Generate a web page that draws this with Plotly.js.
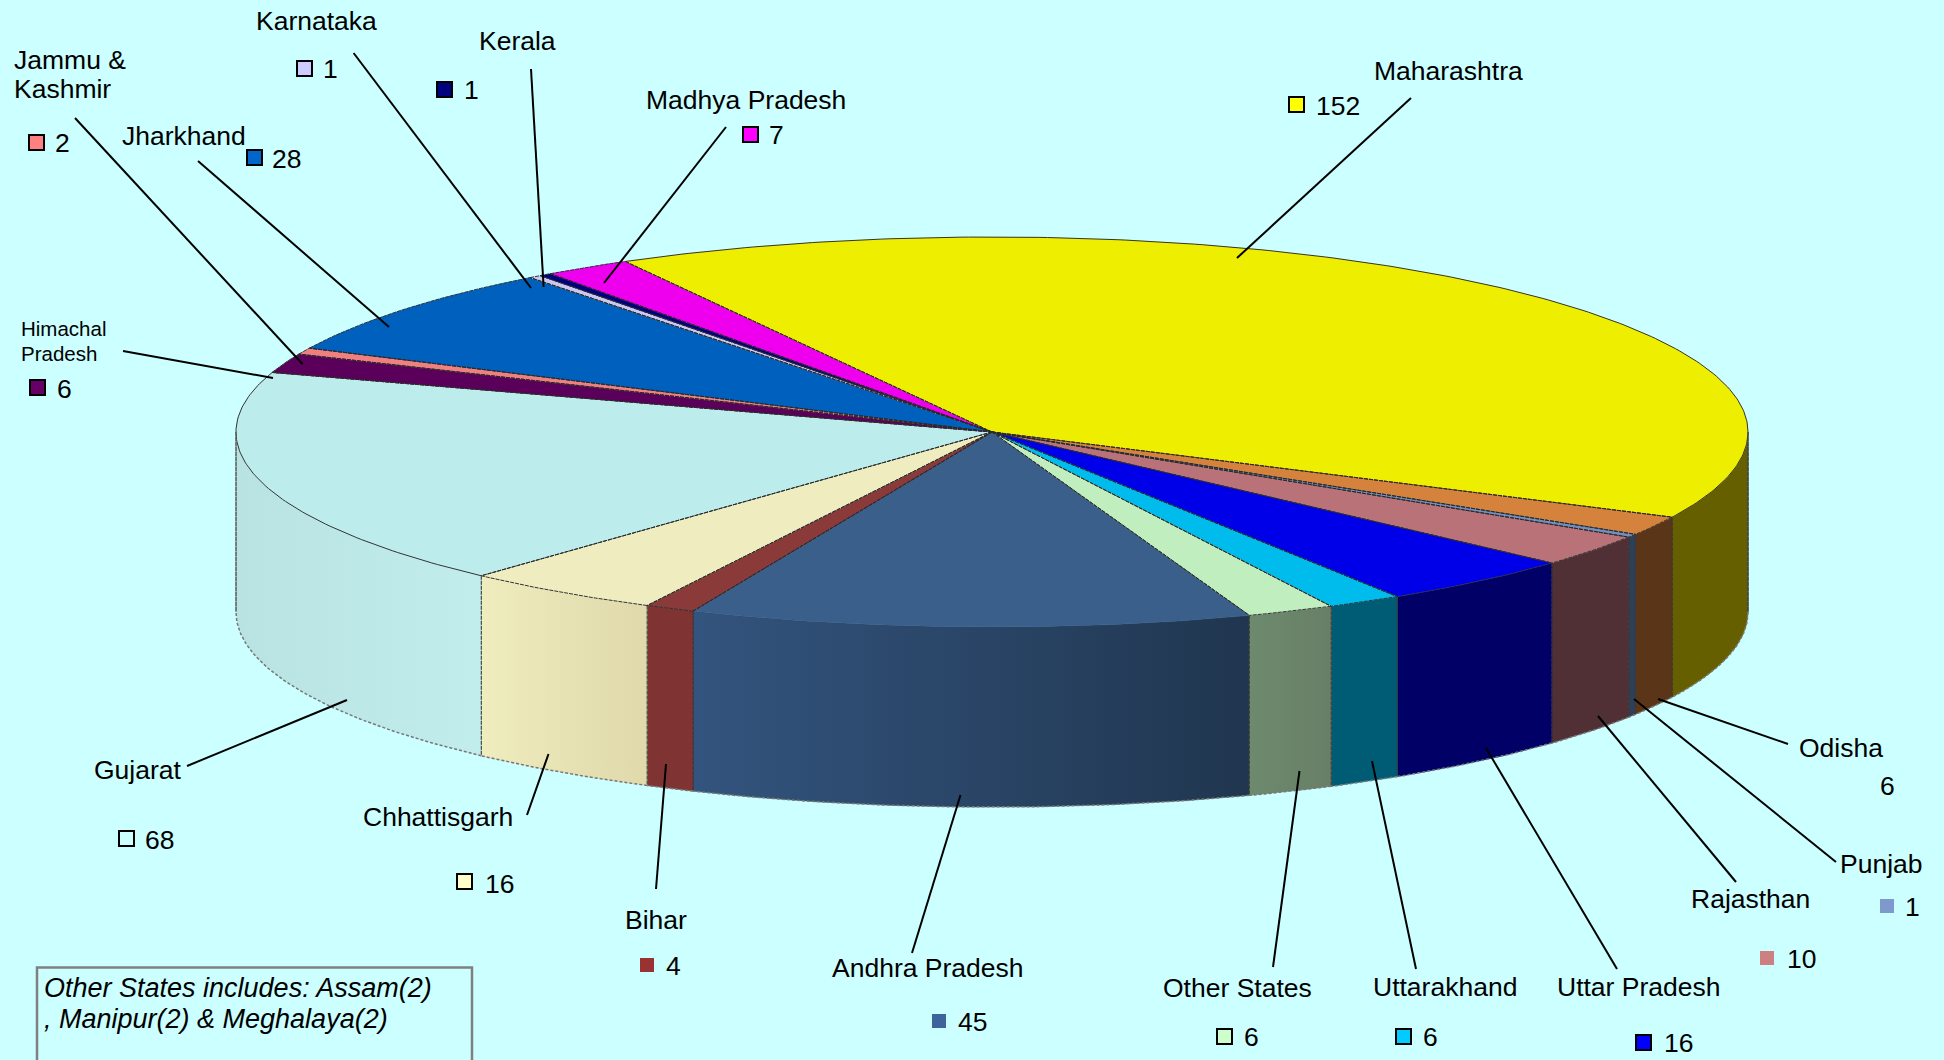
<!DOCTYPE html>
<html>
<head>
<meta charset="utf-8">
<script src="https://cdn.plot.ly/plotly-3.0.1.min.js"></script>
<style>html,body{margin:0;padding:0;background:#ccffff;overflow:hidden}#chart{width:1944px;height:1060px}</style>
</head>
<body>
<div id="chart"></div>
<script>
// ---- data (clockwise from the first slice) ----
const categories = ['Andhra Pradesh','Bihar','Chhattisgarh','Gujarat','Himachal Pradesh','Jammu & Kashmir','Jharkhand','Karnataka','Kerala','Madhya Pradesh','Maharashtra','Odisha','Punjab','Rajasthan','Uttar Pradesh','Uttarakhand','Other States'];
const values = [45,4,16,68,6,2,28,1,1,7,152,6,1,10,16,6,6];
const noteLines = ['Other States includes: Assam(2)', ', Manipur(2) & Meghalaya(2)'];

// ---- styles ----
const topColors = ['#3a5f8a','#8b3a3a','#efedc0','#bdecec','#5a005a','#f08080','#0060bd','#c8c8f0','#000080','#ee00ee','#eeee00','#d4823c','#6f8fc0','#b97378','#0000e8','#00bced','#c0eebf'];
const sideColors = [['#33547e','#20364f'],['#803333','#803333'],['#efecbd','#dfd9ac'],['#b9e3e3','#c2eded'],['#5a005a','#5a005a'],['#f08080','#f08080'],['#0060bd','#0060bd'],['#c8c8f0','#c8c8f0'],['#000080','#000080'],['#ee00ee','#ee00ee'],['#665f00','#665f00'],['#5a3518','#5a3518'],['#2f3f55','#2f3f55'],['#503035','#503035'],['#000066','#000066'],['#005c75','#005c75'],['#6d8a6e','#677f66']];
const keyColors = ['#3f649c','#993333','#ffffcc','#ccffff','#660066','#ff8080','#0066cc','#ccccff','#000080','#ff00ff','#ffff00',null,'#8099cc','#cc8080','#0000ff','#00ccff','#ccffcc'];
const keyBorder = [0,0,1,1,1,1,1,1,1,1,1,0,0,0,1,1,1];
// small rendering correction of the reference's 3-D sweep, in degrees (not data)
const sweepAdjustDeg = [0,0,0,0,0,0,0,0,0,0,-1,0,0,0,0,0,1];

// ---- layout of labels: [label left, label centre y, value left, value centre y, key left, key top] ----
const labelPos = [
 [832,968, 958,1022, 932,1014],
 [625,920, 666,966, 640,958],
 [363,817, 485,884, 457,874],
 [94,770, 145,840, 119,831],
 [21,328, 57,389, 30,380],
 [14,60, 55,143, 29,135],
 [122,136, 272,159, 247,150],
 [256,21, 323,69, 297,61],
 [479,41, 464,90, 437,82],
 [646,100, 769,135, 743,127],
 [1374,71, 1316,106, 1289,97],
 [1799,748, 1880,786, 0,0],
 [1840,864, 1905,907, 1880,899],
 [1691,899, 1787,959, 1760,951],
 [1557,987, 1664,1043, 1636,1035],
 [1373,987, 1423,1037, 1396,1029],
 [1163,988, 1244,1037, 1217,1029]
];
const labelLines = {'Jammu & Kashmir':['Jammu &','Kashmir'],'Himachal Pradesh':['Himachal','Pradesh']};
const leaders = [
 [960.5,795,912,953],[666,764,656,889],[548.5,754,527,815],[347,700,187,766],[273,378,123,351],
 [302.5,364,75,118],[389,327,198,161],[531,288,353.6,53],[543.6,287,531,69],[604,283,726,127],
 [1237,258,1411,98],[1658,699,1788,744],[1634,699,1836,862],[1598,716,1736,882],[1486,748,1617,969],
 [1372,761,1416,969],[1299.5,771,1273,967]
];

// ---- pie geometry ----
const cx=992, cy=432, rx=756, ry=195, depth=180, startDeg=70.1;
const total = values.reduce((a,b)=>a+b,0);
const pt=(deg,dy)=>[cx+rx*Math.cos(deg*Math.PI/180), cy+ry*Math.sin(deg*Math.PI/180)+(dy||0)];
function arc(a,b,dy){const n=Math.max(2,Math.ceil(Math.abs(b-a)*1.5));const o=[];for(let i=0;i<=n;i++)o.push(pt(a+(b-a)*i/n,dy));return o;}

const slices=[];let acc=startDeg;
values.forEach((v,i)=>{const s=acc,e=acc+v/total*360+sweepAdjustDeg[i];slices.push([s,e]);acc=e;});

const traces=[];
const edge=(pts,color,width,dash)=>({x:pts.map(p=>p[0]),y:pts.map(p=>p[1]),mode:'lines',line:{color:color,width:width,dash:dash||'solid'},hoverinfo:'skip',showlegend:false});
// walls: part of each slice lying in the front half of the ellipse
slices.forEach(([s,e],i)=>{
  [[0,180],[360,540]].forEach(([lo,hi])=>{
    const a=Math.max(s,lo),b=Math.min(e,hi);
    if(b<=a) return;
    const pts=arc(a,b,0).concat(arc(b,a,depth));pts.push(pts[0]);
    const t={x:pts.map(p=>p[0]),y:pts.map(p=>p[1]),mode:'lines',fill:'toself',
      line:{color:sideColors[i][1],width:0.5},hoverinfo:'skip',showlegend:false,
      fillcolor:sideColors[i][0]};
    if(sideColors[i][0]!==sideColors[i][1]){
      t.fillgradient={type:'horizontal',colorscale:[[0,sideColors[i][0]],[1,sideColors[i][1]]]};
    }
    traces.push(t);
    traces.push(edge([pt(a,0),pt(a,depth)],'#3a3a3a',1,'4px,1px'));
    traces.push(edge([pt(b,0),pt(b,depth)],'#3a3a3a',1,'4px,1px'));
    traces.push(edge(arc(a,b,depth),'#777777',1.5,'3px,2px'));
  });
});
// top faces
slices.forEach(([s,e],i)=>{
  const pts=[[cx,cy]].concat(arc(s,e,0));pts.push([cx,cy]);
  traces.push({x:pts.map(p=>p[0]),y:pts.map(p=>p[1]),mode:'lines',fill:'toself',fillcolor:topColors[i],
    line:{color:topColors[i],width:0.5},hoverinfo:'skip',showlegend:false,name:categories[i]});
});
// top-face edges: the Andhra Pradesh rim carries no dark line in the reference
slices.forEach(([s,e],i)=>{
  traces.push(edge([[cx,cy],pt(s,0)],'#2a2a2a',1,'4px,1px'));
  traces.push(edge([[cx,cy],pt(e,0)],'#2a2a2a',1,'4px,1px'));
  if(i!==0) traces.push(edge(arc(s,e,0),'#333333',1,i===10||i===3?'solid':'4px,1px'));
});
// silhouette verticals
traces.push(edge([pt(0,0),pt(0,depth)],'#444444',1));
traces.push(edge([pt(180,0),pt(180,depth)],'#666666',1));

// ---- labels, keys, leaders ----
const font={family:'"Liberation Sans",Arial,sans-serif',size:26.5,color:'#000'};
const annotations=[],shapes=[];
function txt(t,x,y,f,ital){annotations.push({text:ital?'<i>'+t+'</i>':t,x:x,y:y,xref:'x',yref:'y',xanchor:'left',yanchor:'middle',showarrow:false,font:f||font,borderpad:0,borderwidth:0});}
categories.forEach((c,i)=>{
  const p=labelPos[i];
  const small=c==='Himachal Pradesh';
  const f=small?Object.assign({},font,{size:20.5}):font;
  const gap=small?25:29;
  (labelLines[c]||[c]).forEach((l,k)=>txt(l,p[0],p[1]+k*gap,f));
  txt(String(values[i]),p[2],p[3]);
  if(keyColors[i]){
    shapes.push({type:'rect',xref:'x',yref:'y',x0:p[4],y0:p[5],x1:p[4]+(keyBorder[i]?15:14),y1:p[5]+(keyBorder[i]?15:14),
      fillcolor:keyColors[i],line:{color:'#000',width:keyBorder[i]?2:0}});
  }
  const L=leaders[i];
  shapes.push({type:'line',xref:'x',yref:'y',x0:L[0],y0:L[1],x1:L[2],y1:L[3],line:{color:'#000',width:2}});
});
// note box
shapes.push({type:'path',xref:'x',yref:'y',path:'M37,1062 L37,967.5 L472,967.5 L472,1062',line:{color:'#808080',width:2.5}});
noteLines.forEach((l,i)=>txt(l,44,988+i*31,Object.assign({},font,{size:27}),true));

Plotly.newPlot('chart',traces,{
  width:1944,height:1060,margin:{l:0,r:0,t:0,b:0,pad:0},
  paper_bgcolor:'#ccffff',plot_bgcolor:'#ccffff',showlegend:false,
  xaxis:{range:[0,1944],visible:false,fixedrange:true},
  yaxis:{range:[1060,0],visible:false,fixedrange:true},
  annotations:annotations,shapes:shapes
},{displayModeBar:false,staticPlot:true});
</script>
</body>
</html>
